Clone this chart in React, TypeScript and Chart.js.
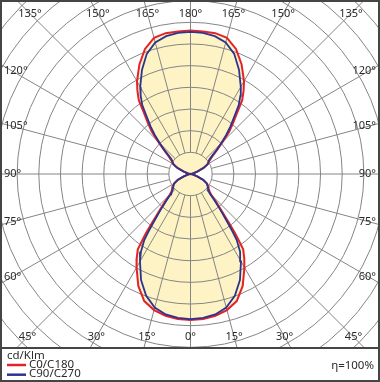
import React, { useEffect, useRef } from "react";
import { Chart, registerables } from "chart.js";

Chart.register(...registerables);

// ---------- data (cd/klm) ----------
// gamma angle: 0 = straight down, 180 = straight up
const gammaAngles = [
  0, 5, 10, 15, 20, 25, 30, 32.5, 35, 36, 37, 38, 39, 40, 42.5, 45, 47.5, 50, 55, 60, 65, 70, 75, 80, 90,
  100, 105, 110, 115, 120, 125, 127.5, 130, 132.5, 135, 137.5, 140, 142.5, 145, 147.5, 150, 155, 160, 165, 170, 175, 180,
];
const c0c180Values = [
  337, 336, 332, 325, 312, 285, 249, 231, 212, 189, 171, 148, 129, 115, 88, 67, 60, 55, 51, 44, 32, 16, 7, 2, 0,
  2, 7, 16, 32, 46, 53, 60, 69, 85, 106, 132, 152, 175, 208, 228, 247, 279, 307, 325, 330, 330, 331,
];
const c90c270Values = [
  335, 333, 329, 319, 299, 270, 233, 213, 186, 166, 148, 131, 117, 105, 80, 62, 57, 53, 48, 43, 33, 18, 8, 3, 0,
  3, 8, 18, 35, 46, 51, 55, 65, 81, 99, 122, 143, 165, 194, 214, 232, 265, 295, 314, 323, 327, 328,
];
const seriesNames = ["C0/C180", "C90/C270"];
const seriesColors = ["#e3232a", "#2b3590"];
// spoke labels, every 15°, starting at the bottom and going round via the right side
const angleTickLabels = [
  "0°", "15°", "30°", "45°", "60°", "75°", "90°", "105°", "120°", "135°", "150°", "165°",
  "180°", "165°", "150°", "135°", "120°", "105°", "90°", "75°", "60°", "45°", "30°", "15°",
];
const unitLabel = "cd/Klm";
const efficiencyLabel = "η=100%";

// ---------- layout / style ----------
const W = 380;
const H = 382;
const BOX = { left: 2, top: 2, right: 378, bottom: 347 };
const CENTER = { x: 190.5, y: 174 };
const RING_STEP = 50; // cd/klm between rings
const RING_PX = 21.67;
const RING_COUNT = 12;
const GRID_COLOR = "#858585";
const FILL_COLOR = "rgb(253, 243, 196)";
const FRAME_COLOR = "#454545";
const TEXT_COLOR = "#2a2a2a";
const FONT = '"Noto Sans", "DejaVu Sans", sans-serif';
const LABEL_RECT = { left: 12.5, right: 369, top: 13.5, bottom: 337 };

function polarPoints(values: number[]) {
  const right = gammaAngles.map((g, i) => {
    const a = (g * Math.PI) / 180;
    return { x: values[i] * Math.sin(a), y: -values[i] * Math.cos(a) };
  });
  const left = gammaAngles
    .map((g, i) => {
      const a = (g * Math.PI) / 180;
      return { x: -values[i] * Math.sin(a), y: -values[i] * Math.cos(a) };
    })
    .reverse();
  return [...right, ...left.slice(1)];
}

const ldcPlugin = {
  id: "ldcPlugin",
  afterDatasetDraw(chart: any, args: any) {
    if (args.index !== 0) return;
    const { ctx, chartArea, scales } = chart;
    const cx = scales.x.getPixelForValue(0);
    const cy = scales.y.getPixelForValue(0);
    const ring = (k: number) => Math.abs(scales.x.getPixelForValue(k * RING_STEP) - cx);
    ctx.save();
    ctx.beginPath();
    ctx.rect(chartArea.left, chartArea.top, chartArea.right - chartArea.left, chartArea.bottom - chartArea.top);
    ctx.clip();
    ctx.strokeStyle = GRID_COLOR;
    ctx.lineWidth = 1;
    for (let k = 1; k <= RING_COUNT; k++) {
      ctx.beginPath();
      ctx.arc(cx, cy, ring(k), 0, Math.PI * 2);
      ctx.stroke();
    }
    const r0 = ring(1);
    const r1 = ring(RING_COUNT + 4);
    angleTickLabels.forEach((_, i) => {
      const a = (i * 15 * Math.PI) / 180;
      const sx = Math.sin(a);
      const sy = Math.cos(a);
      ctx.beginPath();
      ctx.moveTo(cx + r0 * sx, cy + r0 * sy);
      ctx.lineTo(cx + r1 * sx, cy + r1 * sy);
      ctx.stroke();
    });
    ctx.restore();
  },
  afterDraw(chart: any) {
    const { ctx, scales } = chart;
    const cx = scales.x.getPixelForValue(0);
    const cy = scales.y.getPixelForValue(0);
    ctx.save();
    // angle labels on the box edge
    ctx.font = `11px ${FONT}`;
    ctx.fillStyle = TEXT_COLOR;
    ctx.textAlign = "center";
    ctx.textBaseline = "middle";
    angleTickLabels.forEach((lab, i) => {
      const a = (i * 15 * Math.PI) / 180;
      const dx = Math.sin(a);
      const dy = Math.cos(a);
      const ts: number[] = [];
      if (dx > 1e-6) ts.push((LABEL_RECT.right - cx) / dx);
      if (dx < -1e-6) ts.push((LABEL_RECT.left - cx) / dx);
      if (dy > 1e-6) ts.push((LABEL_RECT.bottom - cy) / dy);
      if (dy < -1e-6) ts.push((LABEL_RECT.top - cy) / dy);
      const t = Math.min(...ts);
      let x = cx + t * dx;
      const y = cy + t * dy;
      const hw = ctx.measureText(lab).width / 2;
      x = Math.max(BOX.left + 2 + hw, Math.min(BOX.right - 2 - hw, x));
      ctx.fillText(lab, x, y);
    });
    // frame and separator
    ctx.strokeStyle = FRAME_COLOR;
    ctx.lineWidth = 2;
    ctx.strokeRect(1, 1, W - 2, H - 2);
    ctx.fillStyle = FRAME_COLOR;
    ctx.fillRect(0, BOX.bottom, W, 2);
    // legend
    ctx.font = `11.5px ${FONT}`;
    ctx.fillStyle = TEXT_COLOR;
    ctx.textAlign = "left";
    ctx.textBaseline = "alphabetic";
    ctx.fillText(unitLabel, 7, 358.5);
    seriesNames.forEach((name, i) => {
      const yLine = 365 + i * 9.7;
      ctx.strokeStyle = seriesColors[i];
      ctx.lineWidth = 2.5;
      ctx.beginPath();
      ctx.moveTo(7, yLine);
      ctx.lineTo(26, yLine);
      ctx.stroke();
      ctx.fillStyle = TEXT_COLOR;
      ctx.fillText(name, 29, 367.5 + i * 9.7);
    });
    ctx.textAlign = "right";
    ctx.fillText(efficiencyLabel, 374, 368.5);
    ctx.restore();
  },
};

export default function App() {
  const ref = useRef<HTMLCanvasElement | null>(null);
  useEffect(() => {
    if (!ref.current) return;
    const k = RING_PX / RING_STEP;
    const red = polarPoints(c0c180Values);
    const blue = polarPoints(c90c270Values);
    const chart = new Chart(ref.current, {
      type: "scatter",
      data: {
        datasets: [
          {
            label: "fill",
            data: red,
            showLine: true,
            fill: "shape",
            backgroundColor: FILL_COLOR,
            borderWidth: 0,
            borderColor: "rgba(0,0,0,0)",
            pointRadius: 0,
            order: 3,
          } as any,
          {
            label: seriesNames[0],
            data: red,
            showLine: true,
            fill: false,
            borderColor: seriesColors[0],
            borderWidth: 2,
            pointRadius: 0,
            order: 2,
          },
          {
            label: seriesNames[1],
            data: blue,
            showLine: true,
            fill: false,
            borderColor: seriesColors[1],
            borderWidth: 1.8,
            pointRadius: 0,
            order: 1,
          },
        ],
      },
      options: {
        animation: false,
        responsive: false,
        maintainAspectRatio: false,
        devicePixelRatio: 1,
        layout: {
          padding: { left: BOX.left, top: BOX.top, right: W - BOX.right, bottom: H - BOX.bottom },
        },
        plugins: { legend: { display: false }, tooltip: { enabled: false } },
        events: [],
        scales: {
          x: {
            type: "linear",
            display: false,
            min: -(CENTER.x - BOX.left) / k,
            max: (BOX.right - CENTER.x) / k,
          },
          y: {
            type: "linear",
            display: false,
            min: -(BOX.bottom - CENTER.y) / k,
            max: (CENTER.y - BOX.top) / k,
          },
        },
      },
      plugins: [ldcPlugin],
    });
    return () => chart.destroy();
  }, []);
  return (
    <div style={{ position: "fixed", left: 0, top: 0, width: W, height: H, background: "#fff" }}>
      <canvas ref={ref} width={W} height={H} style={{ display: "block", width: W, height: H }} />
    </div>
  );
}
